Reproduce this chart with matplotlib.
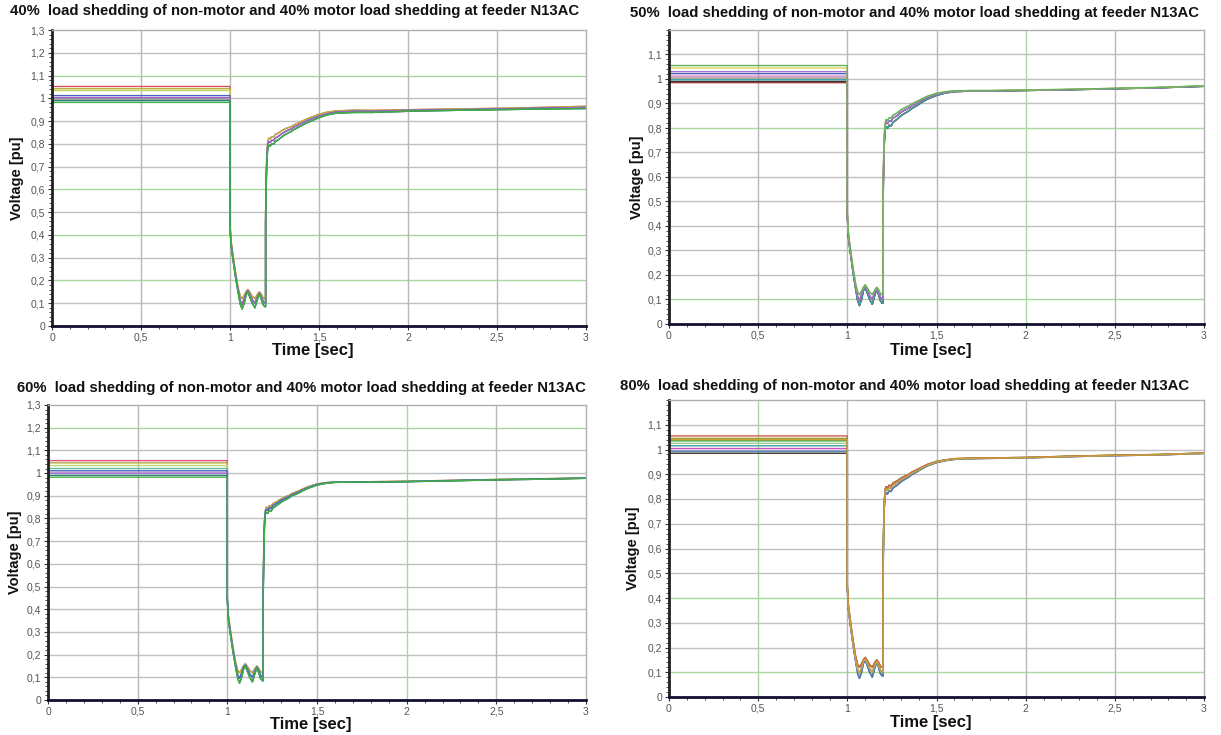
import numpy as np
import matplotlib.pyplot as plt
from matplotlib.ticker import MultipleLocator, FuncFormatter

plt.rcParams['font.family'] = ['Liberation Sans', 'DejaVu Sans']

# ---- data ----
titles = ["40%  load shedding of non-motor and 40% motor load shedding at feeder N13AC",
          "50%  load shedding of non-motor and 40% motor load shedding at feeder N13AC",
          "60%  load shedding of non-motor and 40% motor load shedding at feeder N13AC",
          "80%  load shedding of non-motor and 40% motor load shedding at feeder N13AC"]

t_pre = [0.0, 1.0]
t_fault = [1.0, 1.005, 1.015, 1.03, 1.045, 1.058, 1.068, 1.08, 1.09, 1.1,
           1.11, 1.125, 1.14, 1.155, 1.165, 1.175, 1.185, 1.195, 1.2]
fault_hi = [0.45, 0.38, 0.32, 0.24, 0.17, 0.13, 0.12, 0.135, 0.15, 0.16,
            0.15, 0.13, 0.12, 0.14, 0.15, 0.14, 0.125, 0.12, 0.12]
fault_mid = [0.45, 0.37, 0.31, 0.23, 0.16, 0.11, 0.095, 0.12, 0.145, 0.155,
             0.14, 0.115, 0.1, 0.13, 0.145, 0.13, 0.11, 0.1, 0.1]
fault_lo = [0.44, 0.36, 0.30, 0.22, 0.15, 0.095, 0.075, 0.10, 0.135, 0.15,
            0.13, 0.10, 0.08, 0.12, 0.14, 0.12, 0.095, 0.085, 0.085]

t_rec = [1.2, 1.203, 1.207, 1.212, 1.218, 1.225, 1.235, 1.245, 1.255, 1.265, 1.28,
         1.29, 1.3, 1.315, 1.33, 1.345, 1.36, 1.38, 1.4, 1.42, 1.45, 1.5, 1.55, 1.6,
         1.7, 1.8, 2.0, 2.25, 2.5, 2.75, 3.0]

rec_p1_hi = [0.50, 0.65, 0.76, 0.81, 0.825, 0.822, 0.832, 0.83, 0.842, 0.845, 0.852,
             0.858, 0.862, 0.868, 0.872, 0.876, 0.884, 0.89, 0.898, 0.905, 0.915, 0.93, 0.94, 0.945,
             0.948, 0.947, 0.95, 0.953, 0.956, 0.96, 0.965]
rec_p1_mid = [0.48, 0.63, 0.74, 0.795, 0.81, 0.806, 0.816, 0.814, 0.826, 0.83, 0.838,
              0.844, 0.849, 0.856, 0.861, 0.866, 0.874, 0.881, 0.889, 0.897, 0.907, 0.922, 0.933, 0.94,
              0.943, 0.943, 0.947, 0.95, 0.953, 0.957, 0.96]
rec_p1_lo = [0.45, 0.60, 0.72, 0.78, 0.795, 0.79, 0.80, 0.798, 0.81, 0.815, 0.823,
             0.83, 0.836, 0.843, 0.849, 0.855, 0.863, 0.871, 0.879, 0.888, 0.898, 0.915, 0.928, 0.935,
             0.938, 0.938, 0.943, 0.947, 0.95, 0.953, 0.955]

rec_p2_hi = [0.50, 0.66, 0.77, 0.82, 0.835, 0.83, 0.842, 0.84, 0.852, 0.856, 0.862,
             0.868, 0.874, 0.88, 0.886, 0.89, 0.898, 0.905, 0.912, 0.92, 0.93, 0.942, 0.948, 0.952,
             0.953, 0.953, 0.955, 0.958, 0.962, 0.966, 0.972]
rec_p2_mid = [0.48, 0.64, 0.75, 0.81, 0.825, 0.818, 0.83, 0.827, 0.84, 0.844, 0.851,
              0.858, 0.864, 0.87, 0.876, 0.882, 0.89, 0.897, 0.905, 0.914, 0.925, 0.938, 0.946, 0.95,
              0.952, 0.952, 0.954, 0.957, 0.961, 0.965, 0.971]
rec_p2_lo = [0.45, 0.61, 0.73, 0.795, 0.805, 0.798, 0.812, 0.808, 0.822, 0.828, 0.836,
             0.843, 0.85, 0.857, 0.863, 0.87, 0.879, 0.887, 0.896, 0.906, 0.918, 0.933, 0.943, 0.948,
             0.951, 0.951, 0.953, 0.956, 0.96, 0.964, 0.97]

rec_p3_hi = [0.50, 0.67, 0.79, 0.835, 0.85, 0.845, 0.857, 0.855, 0.866, 0.87, 0.876,
             0.882, 0.886, 0.892, 0.898, 0.902, 0.91, 0.916, 0.922, 0.93, 0.94, 0.952, 0.958, 0.961,
             0.962, 0.962, 0.964, 0.968, 0.972, 0.975, 0.979]
rec_p3_mid = [0.48, 0.65, 0.78, 0.83, 0.84, 0.835, 0.848, 0.845, 0.858, 0.862, 0.869,
              0.875, 0.88, 0.886, 0.892, 0.897, 0.905, 0.911, 0.918, 0.926, 0.936, 0.95, 0.957, 0.96,
              0.961, 0.961, 0.963, 0.967, 0.971, 0.974, 0.978]
rec_p3_lo = [0.45, 0.62, 0.76, 0.82, 0.825, 0.822, 0.836, 0.833, 0.847, 0.852, 0.86,
             0.866, 0.872, 0.879, 0.885, 0.891, 0.90, 0.906, 0.913, 0.922, 0.933, 0.947, 0.955, 0.959,
             0.96, 0.96, 0.962, 0.966, 0.97, 0.973, 0.977]

rec_p4_hi = [0.50, 0.67, 0.79, 0.84, 0.85, 0.845, 0.856, 0.852, 0.864, 0.868, 0.874,
             0.879, 0.884, 0.89, 0.895, 0.90, 0.908, 0.915, 0.922, 0.93, 0.94, 0.952, 0.958, 0.963,
             0.965, 0.966, 0.968, 0.973, 0.977, 0.98, 0.986]
rec_p4_mid = [0.48, 0.65, 0.78, 0.83, 0.84, 0.834, 0.846, 0.842, 0.855, 0.86, 0.866,
              0.872, 0.878, 0.884, 0.89, 0.895, 0.904, 0.911, 0.918, 0.927, 0.937, 0.95, 0.957, 0.962,
              0.964, 0.965, 0.967, 0.972, 0.976, 0.979, 0.985]
rec_p4_lo = [0.45, 0.62, 0.76, 0.815, 0.825, 0.82, 0.833, 0.83, 0.843, 0.849, 0.856,
             0.863, 0.869, 0.876, 0.883, 0.889, 0.898, 0.906, 0.914, 0.923, 0.934, 0.947, 0.955, 0.96,
             0.963, 0.964, 0.966, 0.971, 0.975, 0.978, 0.984]

recovery = [(rec_p1_hi, rec_p1_mid, rec_p1_lo),
            (rec_p2_hi, rec_p2_mid, rec_p2_lo),
            (rec_p3_hi, rec_p3_mid, rec_p3_lo),
            (rec_p4_hi, rec_p4_mid, rec_p4_lo)]
faults = (fault_hi, fault_mid, fault_lo)

# per panel: bus colours, pre-fault voltage, which envelope (0 hi, 1 mid, 2 lo)
colors_p1 = ['#d9534f', '#b8b040', '#c8d860', '#5060c0', '#a060c8', '#909090', '#2f7f7f', '#40b040']
levels_p1 = [1.052, 1.042, 1.034, 1.012, 1.003, 0.997, 0.990, 0.982]
groups_p1 = [0, 0, 1, 1, 1, 2, 2, 2]

colors_p2 = ['#b04040', '#303030', '#40a0a0', '#909090', '#e080c0', '#5060c0', '#a070c8', '#d8d850', '#60b060']
levels_p2 = [0.985, 0.990, 0.997, 1.004, 1.012, 1.022, 1.030, 1.045, 1.055]
groups_p2 = [2, 2, 2, 1, 1, 1, 1, 0, 0]

colors_p3 = ['#e05080', '#b8a840', '#c0d870', '#60c0a0', '#5060c0', '#a060c8', '#2f7f7f', '#40b040']
levels_p3 = [1.055, 1.045, 1.033, 1.020, 1.010, 1.000, 0.990, 0.982]
groups_p3 = [0, 0, 1, 1, 1, 2, 2, 2]

colors_p4 = ['#303030', '#5080c0', '#d050c0', '#40a0a0', '#a0d090', '#40a040', '#a0a030', '#d06050', '#c8a040']
levels_p4 = [0.985, 0.993, 1.004, 1.015, 1.025, 1.035, 1.045, 1.055, 1.040]
groups_p4 = [2, 2, 1, 1, 1, 0, 0, 0, 1]

panel_colors = [colors_p1, colors_p2, colors_p3, colors_p4]
panel_levels = [levels_p1, levels_p2, levels_p3, levels_p4]
panel_groups = [groups_p1, groups_p2, groups_p3, groups_p4]
ylims = [1.3, 1.2, 1.3, 1.2]
green_h = [[1.1, 0.6, 0.4, 0.2], [0.8, 0.1], [1.2], [0.4, 0.1]]
green_v = [[], [2.0], [2.0], [0.5]]

# ---- layout (pixels of the 1221x735 picture) ----
W, H = 1221, 735
boxes = [(52, 586, 30, 326), (669, 1204, 30, 324), (48, 586, 405, 700), (669, 1204, 400, 697)]
title_pos = [(10, 11), (630, 13), (17, 388), (620, 386)]
ylab_x = [17, 637, 15, 633]
xlab_y = [351, 351, 724, 722]

fig = plt.figure(figsize=(W / 100, H / 100), dpi=100)

comma = FuncFormatter(lambda v, p: ('%g' % round(v, 2)).replace('.', ','))

for i in range(4):
    x0, x1, y0, y1 = boxes[i]
    ax = fig.add_axes([x0 / W, 1 - y1 / H, (x1 - x0) / W, (y1 - y0) / H])
    ymax = ylims[i]

    # gridlines, some of them drawn green as in the source tool
    for yv in np.arange(0.1, ymax - 0.001, 0.1):
        c = '#a8d8a0' if any(abs(yv - g) < 1e-6 for g in green_h[i]) else '#c0c0c0'
        ax.axhline(yv, color=c, lw=1.0, zorder=0)
    for xv in [0.5, 1.0, 1.5, 2.0, 2.5]:
        c = '#a8d8a0' if xv in green_v[i] else '#b8b8b8'
        ax.axvline(xv, color=c, lw=1.0, zorder=0)

    hi_mid_lo = recovery[i]
    for col, lev, g in zip(panel_colors[i], panel_levels[i], panel_groups[i]):
        t = t_pre + t_fault + t_rec
        v = [lev, lev] + faults[g] + hi_mid_lo[g]
        ax.plot(t, v, color=col, lw=1.0, zorder=2)

    ax.set_xlim(0, 3)
    ax.set_ylim(0, ymax)
    ax.xaxis.set_major_locator(MultipleLocator(0.5))
    ax.xaxis.set_minor_locator(MultipleLocator(0.1))
    ax.set_yticks(np.round(np.arange(0, ymax + 0.001 if ymax > 1.25 else ymax - 0.05, 0.1), 2))
    ax.yaxis.set_minor_locator(MultipleLocator(0.02))
    ax.xaxis.set_major_formatter(comma)
    ax.yaxis.set_major_formatter(comma)
    ax.tick_params(axis='both', which='major', labelsize=7.5, labelcolor='#555555',
                   length=3, width=0.8, color='#333333', pad=2)
    ax.tick_params(axis='both', which='minor', length=2, width=0.6, color='#333333')

    for s in ['top', 'right']:
        ax.spines[s].set_color('#b0b0b0')
        ax.spines[s].set_linewidth(1.0)
    ax.spines['left'].set_color('#202020')
    ax.spines['left'].set_linewidth(2.0)
    ax.spines['bottom'].set_color('#101030')
    ax.spines['bottom'].set_linewidth(2.0)

    tx, ty = title_pos[i]
    fig.text(tx / W, 1 - ty / H, titles[i], fontsize=10.7, fontweight='bold',
             ha='left', va='center', color='#111111')
    fig.text(ylab_x[i] / W, 1 - (y0 + y1) / 2 / H, "Voltage [pu]", fontsize=10.5,
             fontweight='bold', rotation=90, ha='center', va='center', color='#111111')
    fig.text((x0 + x1) / 2 / W - 0.005, 1 - xlab_y[i] / H, "Time [sec]", fontsize=12,
             fontweight='bold', ha='center', va='center', color='#111111')

plt.savefig('out.png', dpi=100)
